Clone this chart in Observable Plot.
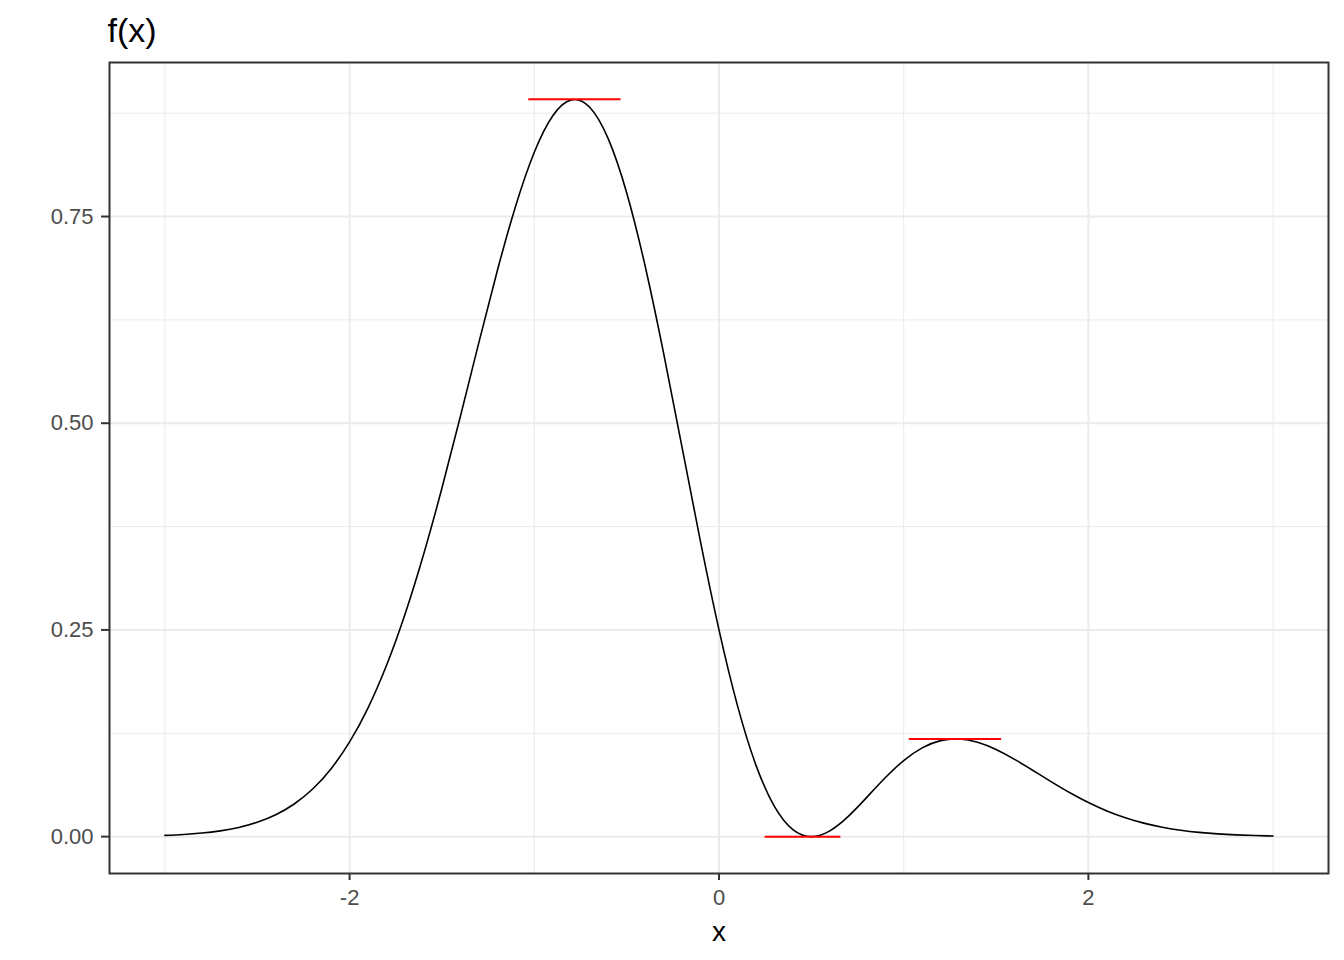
<!DOCTYPE html>
<html>
<head>
<meta charset="utf-8">
<script src="https://cdn.jsdelivr.net/npm/d3@7"></script>
<script src="https://cdn.jsdelivr.net/npm/@observablehq/plot@0.6"></script>
<style>
  html, body { margin: 0; padding: 0; background: #ffffff; }
  #chart svg { display: block; }
</style>
</head>
<body>
<div id="chart"></div>
<script>
// Curve samples
const xValues = [-3.0,-2.9,-2.8,-2.7,-2.6,-2.5,-2.4,-2.3,-2.2,-2.1,-2.0,-1.9,-1.8,-1.7,-1.6,-1.5,-1.4,-1.3,-1.2,-1.1,-1.0,-0.9,-0.8,-0.7,-0.6,-0.5,-0.4,-0.3,-0.2,-0.1,0.0,0.1,0.2,0.3,0.4,0.5,0.6,0.7,0.8,0.9,1.0,1.1,1.2,1.3,1.4,1.5,1.6,1.7,1.8,1.9,2.0,2.1,2.2,2.3,2.4,2.5,2.6,2.7,2.8,2.9,3.0];
const fValues = [0.0015,0.0026,0.0043,0.0070,0.0111,0.0174,0.0265,0.0395,0.0576,0.0822,0.1145,0.1558,0.2072,0.2690,0.3409,0.4216,0.5085,0.5978,0.6847,0.7634,0.8277,0.8719,0.8911,0.8822,0.8442,0.7788,0.6902,0.5849,0.4708,0.3564,0.2500,0.1584,0.0865,0.0366,0.0085,0.0000,0.0070,0.0245,0.0475,0.0712,0.0920,0.1074,0.1161,0.1181,0.1141,0.1054,0.0935,0.0800,0.0662,0.0530,0.0412,0.0311,0.0229,0.0163,0.0114,0.0077,0.0051,0.0033,0.0021,0.0013,0.0008];

// Red horizontal markers at extrema
const markX1 = [-1.03, 0.25, 1.03];
const markX2 = [-0.53, 0.66, 1.53];
const markY  = [0.8917, 0.0, 0.1182];

// Ticks
const xTicks = [-2, 0, 2];
const xMinor = [-3, -1, 1, 3];
const yTicks = [0, 0.25, 0.5, 0.75];
const yMinor = [0.125, 0.375, 0.625, 0.875];

const titleText = "f(x)";
const xLabel = "x";

const curve = xValues.map((x, i) => ({x, y: fValues[i]}));
const marks = markX1.map((x1, i) => ({x1, x2: markX2[i], y: markY[i]}));

const font = "'Liberation Sans', Arial, sans-serif";

const chart = Plot.plot({
  width: 1344,
  height: 960,
  marginLeft: 109,
  marginRight: 16,
  marginTop: 62,
  marginBottom: 87,
  style: {fontFamily: font, background: "#ffffff", overflow: "visible"},
  x: {domain: [-3.3, 3.3]},
  y: {domain: [-0.0446, 0.9363]},
  marks: [
    Plot.ruleX(xMinor, {stroke: "#ebebeb", strokeWidth: 1}),
    Plot.ruleY(yMinor, {stroke: "#ebebeb", strokeWidth: 1}),
    Plot.ruleX(xTicks, {stroke: "#ebebeb", strokeWidth: 2}),
    Plot.ruleY(yTicks, {stroke: "#ebebeb", strokeWidth: 2}),
    Plot.line(curve, {x: "x", y: "y", stroke: "#000000", strokeWidth: 1.6, curve: "natural"}),
    Plot.ruleY(marks, {x1: "x1", x2: "x2", y: "y", stroke: "#ff0000", strokeWidth: 2}),
    Plot.frame({stroke: "#333333", strokeWidth: 2}),
    Plot.axisX(xTicks, {
      tickSize: 7, tickPadding: 9, stroke: "#333333", strokeWidth: 2,
      fill: "#4d4d4d", fontSize: 22, label: null, tickFormat: d => String(d)
    }),
    Plot.axisY(yTicks, {
      tickSize: 8, tickPadding: 8, stroke: "#333333", strokeWidth: 2,
      fill: "#4d4d4d", fontSize: 22, label: null, tickFormat: d3.format(".2f")
    }),
    Plot.text([xLabel], {
      frameAnchor: "bottom", dy: 67, fontSize: 28, fill: "#000000", text: d => d
    }),
    Plot.text([titleText], {
      frameAnchor: "top-left", textAnchor: "start", lineAnchor: "bottom",
      dx: -2, dy: -21, fontSize: 34, fill: "#000000", text: d => d
    })
  ]
});

document.getElementById("chart").appendChild(chart);
</script>
</body>
</html>
